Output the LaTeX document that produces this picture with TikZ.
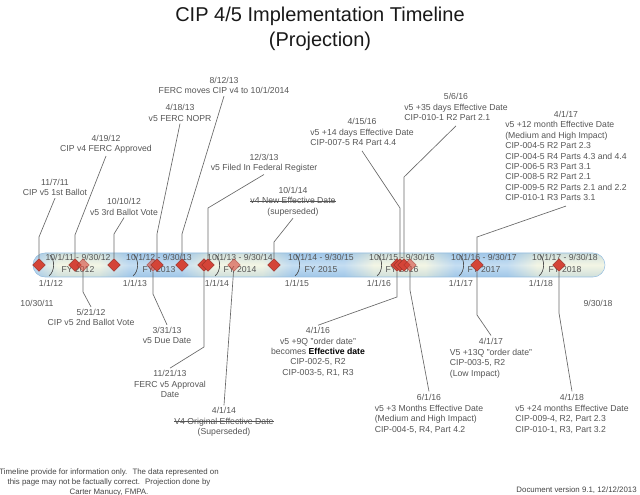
\documentclass[tikz,border=0pt]{standalone}
\usepackage{fontspec}
\setmainfont{Liberation Sans}
\usetikzlibrary{shapes.geometric, calc}
\definecolor{fyblue}{RGB}{166,204,236}
\definecolor{fycream}{RGB}{238,241,216}
\definecolor{fyedge}{RGB}{150,190,225}
\definecolor{mkred}{RGB}{212,68,56}
\definecolor{txtgray}{RGB}{85,85,85}
\definecolor{lngray}{RGB}{105,105,105}
\tikzset{
    marker/.style={diamond, draw=mkred!75!black, fill=mkred, minimum size=9.5pt, inner sep=0pt},
    ghost/.style={marker, fill opacity=0.6, draw opacity=0.6},
    leader/.style={draw=lngray, line width=0.5pt},
    evfont/.style={text=txtgray, font=\fontsize{6.5}{7.8}\selectfont, inner sep=1.5pt},
    evtext/.style={evfont, align=center},
    fytext/.style={text=txtgray, font=\fontsize{6.5}{9.5}\selectfont, align=center, inner sep=0pt},
    foot/.style={text=txtgray!80!black, font=\fontsize{5.9}{7.5}\selectfont, inner sep=0pt},
    tick/.style={draw=black!70, line width=0.5pt}
}
\newsavebox{\strikebox}
\newcommand{\strikeout}[1]{\sbox{\strikebox}{#1}\rlap{\raisebox{0.27em}{\rule{\wd\strikebox}{0.4pt}}}\usebox{\strikebox}}
\newcommand{\evtab}[2]{\begin{tabular}{@{}l@{}}\multicolumn{1}{@{}c@{}}{#1}\\#2\end{tabular}}

\begin{document}
\begin{tikzpicture}[x=0.75pt, y=-0.75pt]
\useasboundingbox (0,0) rectangle (640,495);

\node[font=\fontsize{15}{18.75}\selectfont, align=center, text=black!90] (title) at (320,28.5) {CIP 4/5 Implementation Timeline\\(Projection)};

% the bar
\begin{scope}
    \clip[rounded corners=9pt] (33,253) rectangle (605,277);
    \fill[fycream] (33,253) rectangle (605,277);
    \shade[left color=fyblue, right color=fycream] (33,253) rectangle (58,277);
    \shade[left color=fycream, right color=fyblue] (99,253) rectangle (129,277);
    \fill[fyblue] (129,253) rectangle (181,277);
    \shade[left color=fyblue, right color=fycream] (181,253) rectangle (211,277);
    \shade[left color=fycream, right color=fyblue] (262,253) rectangle (292,277);
    \fill[fyblue] (292,253) rectangle (344,277);
    \shade[left color=fyblue, right color=fycream] (344,253) rectangle (374,277);
    \shade[left color=fycream, right color=fyblue] (425,253) rectangle (455,277);
    \fill[fyblue] (455,253) rectangle (507,277);
    \shade[left color=fyblue, right color=fycream] (507,253) rectangle (537,277);
    \shade[top color=fyedge, bottom color=fyedge, middle color=white, opacity=0.35] (33,253) rectangle (605,277);
\end{scope}
\draw[fyedge, rounded corners=9pt] (33,253) rectangle (605,277);

\node[fytext] (fy12) at (78,263.5) {10/1/11 - 9/30/12\\FY 2012};
\node[fytext] (fy13) at (159,263.5) {10/1/12 - 9/30/13\\FY 2013};
\node[fytext] (fy14) at (240,263.5) {10/1/13 - 9/30/14\\FY 2014};
\node[fytext] (fy15) at (321,263.5) {10/1/14 - 9/30/15\\FY 2015};
\node[fytext] (fy16) at (402,263.5) {10/1/15 - 9/30/16\\FY 2016};
\node[fytext] (fy17) at (484,263.5) {10/1/16 - 9/30/17\\FY 2017};
\node[fytext] (fy18) at (565,263.5) {10/1/17 - 9/30/18\\FY 2018};

% year ticks
\draw[tick] (50,255) .. controls (55,260) and (55,271) .. (49,276);
\draw[tick] (134,255) .. controls (139,260) and (139,271) .. (133,276);
\draw[tick] (216,255) .. controls (221,260) and (221,271) .. (215,276);
\draw[tick] (296,255) .. controls (301,260) and (301,271) .. (295,276);
\draw[tick] (378,255) .. controls (383,260) and (383,271) .. (377,276);
\draw[tick] (460,255) .. controls (465,260) and (465,271) .. (459,276);
\draw[tick] (540,255) .. controls (545,260) and (545,271) .. (539,276);

\node[evfont] (y12) at (51,283) {1/1/12};
\node[evfont] (y13) at (135,283) {1/1/13};
\node[evfont] (y14) at (217,283) {1/1/14};
\node[evfont] (y15) at (297,283) {1/1/15};
\node[evfont] (y16) at (379,283) {1/1/16};
\node[evfont] (y17) at (461,283) {1/1/17};
\node[evfont] (y18) at (541,283) {1/1/18};
\node[evfont] (start) at (37,303) {10/30/11};
\node[evfont] (finish) at (598,303) {9/30/18};

% markers
\node[marker] (mb1) at (39,265) {};
\node[marker] (mferc4) at (75,265) {};
\node[ghost] (mb2) at (83,265) {};
\node[marker] (mb3) at (114,265) {};
\node[ghost] (mdue5) at (153,265) {};
\node[marker] (mnopr5) at (157,265) {};
\node[marker] (mmove4) at (182,265) {};
\node[marker] (mappr5) at (204,265) {};
\node[marker] (mreg5) at (208,265) {};
\node[ghost] (morig4) at (234,265) {};
\node[marker] (mnew4) at (274,265) {};
\node[marker] (meff9q) at (397,265) {};
\node[marker] (meff14d) at (400,265) {};
\node[marker] (meff35d) at (404,265) {};
\node[ghost] (meff3m) at (410,265) {};
\node[marker] (meff12m) at (477,265) {};
\node[marker] (meff24m) at (559,265) {};

% labels above
\node[evtext] (tb1) at (55,187.5) {11/7/11\\CIP v5 1st Ballot};
\node[evtext] (tferc4) at (106,144.5) {4/19/12\\CIP v4 FERC Approved};
\node[evtext] (tb3) at (124,207) {10/10/12\\v5 3rd Ballot Vote};
\node[evtext] (tnopr5) at (180,113) {4/18/13\\v5 FERC NOPR};
\node[evtext] (tmove4) at (224,85.5) {8/12/13\\FERC moves CIP v4 to 10/1/2014};
\node[evtext] (treg5) at (264,163) {12/3/13\\v5 Filed In Federal Register};
\node[evtext] (tnew4) at (293,201.5) {10/1/14\\\strikeout{v4 New Effective Date}\\(superseded)};
\node[evfont] (teff14d) at (362,133) {\evtab{4/15/16}{v5 +14 days Effective Date\\CIP-007-5 R4 Part 4.4}};
\node[evfont] (teff35d) at (456,108) {\evtab{5/6/16}{v5 +35 days Effective Date\\CIP-010-1 R2 Part 2.1}};
\node[evfont] (teff12m) at (566,157) {\evtab{4/1/17}{v5 +12 month Effective Date\\(Medium and High Impact)\\CIP-004-5 R2 Part 2.3\\CIP-004-5 R4 Parts 4.3 and 4.4\\CIP-006-5 R3 Part 3.1\\CIP-008-5 R2 Part 2.1\\CIP-009-5 R2 Parts 2.1 and 2.2\\CIP-010-1 R3 Parts 3.1}};

% labels below
\node[evtext] (tb2) at (91,317.5) {5/21/12\\CIP v5 2nd Ballot Vote};
\node[evtext] (tdue5) at (167,335.5) {3/31/13\\v5 Due Date};
\node[evtext] (tappr5) at (170,384) {11/21/13\\FERC v5 Approval\\Date};
\node[evtext] (torig4) at (224,422) {4/1/14\\\strikeout{V4 Original Effective Date}\\(Superseded)};
\node[evtext] (teff9q) at (318,352) {4/1/16\\v5 +9Q "order date"\\becomes \textcolor{black}{\textbf{Effective date}}\\CIP-002-5, R2\\CIP-003-5, R1, R3};
\node[evfont] (teff3m) at (429,414.5) {\evtab{6/1/16}{v5 +3 Months Effective Date\\(Medium and High Impact)\\CIP-004-5, R4, Part 4.2}};
\node[evfont] (teff13q) at (491,358.5) {\evtab{4/1/17}{V5 +13Q "order date"\\CIP-003-5, R2\\(Low Impact)}};
\node[evfont] (teff24m) at (572,414.5) {\evtab{4/1/18}{v5 +24 months Effective Date\\CIP-009-4, R2, Part 2.3\\CIP-010-1, R3, Part 3.2}};

% leaders
\draw[leader] (mb1) -- ++(0,-28) -- (tb1.south);
\draw[leader] (mferc4) -- ++(0,-30) -- (tferc4.south);
\draw[leader] (mb2) -- ++(0,27) -- (tb2.north);
\draw[leader] (mb3) -- ++(0,-31) -- (tb3.south);
\draw[leader] (mdue5) -- ++(0,29) -- (tdue5.north);
\draw[leader] (mnopr5) -- ++(0,-31) -- (tnopr5.south);
\draw[leader] (mmove4) -- ++(0,-31) -- (tmove4.south);
\draw[leader] (mappr5) -- ++(0,82) -- (tappr5.north);
\draw[leader] (mreg5) -- ++(0,-57) -- (treg5.south);
\draw[leader] (morig4) -- (torig4.north);
\draw[leader] (mnew4) -- ++(0,-23) -- (tnew4.south);
\draw[leader] (meff9q) -- ++(0,32) -- (teff9q.north);
\draw[leader] (meff14d) -- ++(0,-57) -- (teff14d.south);
\draw[leader] (meff35d) -- ++(0,-88) -- (teff35d.south);
\draw[leader] (meff3m) -- ++(0,25) -- (teff3m.north);
\draw[leader] (meff12m) -- ++(0,-28) -- (teff12m.south);
\draw[leader] (meff12m) -- ++(0,50) -- (teff13q.north);
\draw[leader] (meff24m) -- ++(0,48) -- (teff24m.north);

\node[foot, align=center] (note) at (109,482) {Timeline provide for information only.~ The data represented on\\this page may not be factually correct.~ Projection done by\\Carter Manucy, FMPA.};
\node[foot, anchor=east] (version) at (637,490) {Document version 9.1, 12/12/2013};
\end{tikzpicture}
\end{document}
